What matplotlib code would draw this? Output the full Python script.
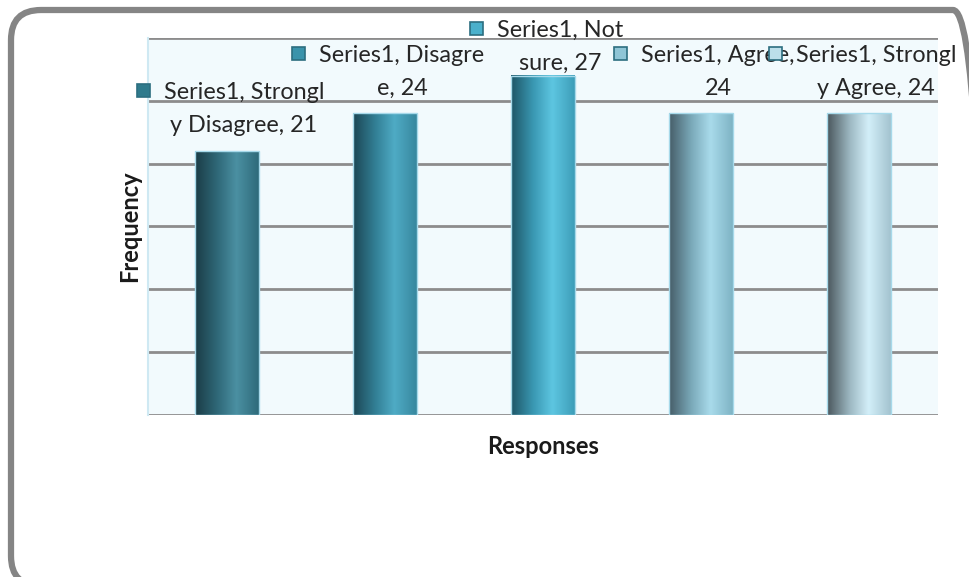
import numpy as np
import matplotlib.pyplot as plt
from matplotlib.colors import LinearSegmentedColormap
from matplotlib.patches import Rectangle, FancyBboxPatch
from matplotlib.transforms import IdentityTransform

categories = ['Strongly Disagree', 'Disagree', 'Not sure', 'Agree', 'Strongly Agree']
values = [21, 24, 27, 24, 24]
# character position where each data label wraps onto its second line
wrap_at = [16, 16, 13, 16, 16]

# horizontal shading of each cylinder: left edge, mid, highlight, right edge
bar_shades = [
    ['#1b3c46', '#2f6878', '#4b90a2', '#2e6a7a'],
    ['#1c4654', '#327f95', '#4fabc5', '#37879e'],
    ['#1e5566', '#3a98b3', '#5dc6e1', '#3d9db8'],
    ['#465d68', '#7aa9b9', '#a9dbeb', '#7eb3c4'],
    ['#4a565c', '#9bb6c0', '#d3eff9', '#a3c3cf'],
]
key_colors = ['#2f7a8c', '#3a93ab', '#4ab0cb', '#8fc5d6', '#bcdfea']

plt.rcParams['font.family'] = ['Lato', 'DejaVu Sans']

W, H = 970, 577
fig = plt.figure(figsize=(W / 100, H / 100), dpi=100)
fig.patch.set_facecolor('white')

# plot area in pixels: left 148, right 938, top 38, bottom 415
ax = fig.add_axes([148 / W, (H - 415) / H, 790 / W, 377 / H])
ax.set_facecolor('#f2fafd')
ax.set_yticks(np.arange(0, 31, 5))
ax.set_xticks([])
ax.tick_params(axis='y', length=0, labelleft=False)
ax.grid(axis='y', color='#8c8c8c', linewidth=2)
ax.set_axisbelow(True)
for side in ['top', 'right', 'bottom']:
    ax.spines[side].set_visible(False)
ax.spines['left'].set_color('#cfe9f3')
ax.spines['left'].set_linewidth(1.5)

bar_w = 0.405
grad = np.linspace(0, 1, 256).reshape(1, -1)
for i, (v, shade) in enumerate(zip(values, bar_shades)):
    cmap = LinearSegmentedColormap.from_list(f'cyl{i}', list(zip([0, 0.35, 0.65, 1.0], shade)))
    ax.imshow(grad, cmap=cmap, aspect='auto', interpolation='bicubic',
              extent=(i - bar_w / 2, i + bar_w / 2, 0, v), zorder=3)
    ax.add_patch(Rectangle((i - bar_w / 2, 0), bar_w, v, fill=False,
                           edgecolor='#a6d9ea', linewidth=1, zorder=4))
ax.set_xlim(-0.5, len(categories) - 0.5)
ax.set_ylim(0, 30)

ax.set_ylabel('Frequency', fontsize=17, fontweight='bold', color='#1a1a1a', va='center')
ax.set_xlabel('Responses', fontsize=17, fontweight='bold', color='#1a1a1a', va='center')
ax.yaxis.set_label_coords(-18 / 790, 0.5)
ax.xaxis.set_label_coords(0.5, -32 / 377)

# data labels: legend key + "Series1, <category>, <value>" wrapped on two lines
first_lines = []
for i, (cat, v) in enumerate(zip(categories, values)):
    full = f'Series1, {cat}, {v}'
    line1 = full[:wrap_at[i]].rstrip()
    line2 = full[wrap_at[i]:]
    y2 = min(v + 2, 28)
    ax.annotate(line2, (i, y2), xytext=(17, 0), textcoords='offset pixels',
                ha='center', va='center', fontsize=16.8, color='#262626',
                annotation_clip=False, zorder=6)
    t1 = ax.annotate(line1, (i, y2), xytext=(17, 33), textcoords='offset pixels',
                     ha='center', va='center', fontsize=16.8, color='#262626',
                     annotation_clip=False, zorder=6)
    first_lines.append(t1)

fig.canvas.draw()
renderer = fig.canvas.get_renderer()
for t1, kc in zip(first_lines, key_colors):
    bb = t1.get_window_extent(renderer)
    size = 13
    cy = (bb.y0 + bb.y1) / 2 + 2
    fig.add_artist(Rectangle((bb.x0 - 14 - size, cy - size / 2), size, size,
                             facecolor=kc, edgecolor='#2c6e80', linewidth=1.2,
                             transform=IdentityTransform(), zorder=10))

# rounded chart frame, running past the right and bottom edges
fig.add_artist(FancyBboxPatch((11, -9), 972, 576,
                              boxstyle='round,pad=0,rounding_size=30',
                              facecolor='none', edgecolor='#858585', linewidth=4.5,
                              transform=IdentityTransform(), zorder=12))

fig.savefig('out.png', dpi=100)
